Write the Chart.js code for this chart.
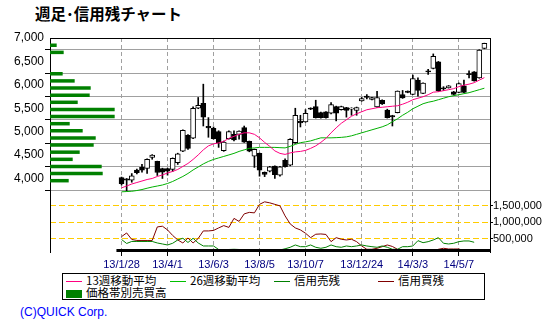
<!DOCTYPE html>
<html>
<head>
<meta charset="utf-8">
<script src="https://cdn.jsdelivr.net/npm/chart.js@4.4.1/dist/chart.umd.min.js"></script>
<style>
body { margin: 0; background: #fff; width: 554px; height: 321px; position: relative; overflow: hidden; }
#title { position: absolute; left: 35px; top: 4px; font: bold 15.5px "Noto Sans CJK JP"; line-height: 18px; color: #000; white-space: nowrap; }
#chartBox { position: absolute; left: 0; top: 0; width: 554px; height: 270px; }
#legend { position: absolute; left: 62px; top: 273px; width: 421px; height: 25px; border: 1px solid #000; }
.item { position: absolute; font: 11.5px "Noto Sans CJK JP"; line-height: 13px; white-space: nowrap; color: #000; }
.item .ln { display: inline-block; width: 16px; height: 0; border-top: 1px solid; vertical-align: middle; margin-right: 4px; }
.item .bx { display: inline-block; width: 16px; height: 8px; background: #008000; vertical-align: middle; margin-right: 4px; }
#copy { position: absolute; left: 20px; top: 305px; color: #0000ff; font: 12px "Liberation Sans"; line-height: 14px; }
</style>
</head>
<body>
<div id="title">週足･信用残チャート</div>
<div id="chartBox"><canvas id="chart" width="554" height="270"></canvas></div>
<div id="legend">
    <div class="item" style="left:3px;top:0px"><span class="ln" style="border-color:#ff0080"></span>13週移動平均</div>
    <div class="item" style="left:107px;top:0px"><span class="ln" style="border-color:#00c000"></span>26週移動平均</div>
    <div class="item" style="left:211px;top:0px"><span class="ln" style="border-color:#008000"></span>信用売残</div>
    <div class="item" style="left:315px;top:0px"><span class="ln" style="border-color:#800000"></span>信用買残</div>
    <div class="item" style="left:3px;top:12px"><span class="bx"></span>価格帯別売買高</div>
</div>
<div id="copy">(C)QUICK Corp.</div>
<script>
// x axis: week index, labelled dates
const dateTickIdx = [0, 9, 18, 27, 36, 47, 57, 66];
const dateTickLabels = ['13/1/28', '13/4/1', '13/6/3', '13/8/5', '13/10/7', '13/12/24', '14/3/3', '14/5/7'];

// weekly candles
const openP = [4020, 3990, 3963, 4178, 4236, 4214, 4450, 4364, 4214, 4214,
    4193, 4336, 4585, 4921, 4863, 5500, 5607, 5114, 5071, 5001,
    4593, 4851, 4943, 4943, 5086, 4793, 4478, 4536, 4130, 4156,
    4264, 4071, 4386, 4285, 4765, 5220, 5206, 5505, 5536, 5408,
    5421, 5393, 5536, 5472, 5515, 5480, 5451, 5656, 5760, 5686,
    5528, 5671, 5463, 5345, 5408, 5793, 5865, 5793, 6100, 5815,
    6300, 6351, 6492, 5935, 5935, 5849, 5836, 5978, 6240, 6278,
    6149, 6779];
const highP = [4030, 4000, 4105, 4200, 4300, 4420, 4510, 4370, 4220, 4220,
    4440, 4540, 5040, 4940, 5530, 5730, 6014, 5300, 5100, 5020,
    4800, 5020, 5020, 5020, 5120, 4800, 4630, 4545, 4140, 4260,
    4270, 4260, 4420, 4850, 5500, 5350, 5470, 5510, 5671, 5420,
    5430, 5620, 5545, 5545, 5520, 5510, 5525, 5730, 5790, 5735,
    5860, 5680, 5480, 5350, 5870, 5880, 5870, 6210, 6150, 6045,
    6330, 6660, 6500, 5960, 5985, 5860, 6040, 6100, 6300, 6285,
    6750, 6890];
const lowP = [3860, 3730, 3920, 4100, 4135, 4107, 4410, 4064, 4000, 4071,
    4150, 4300, 4570, 4620, 4850, 5490, 5121, 4880, 4840, 4664,
    4580, 4840, 4800, 4840, 4770, 4570, 4236, 4049, 4040, 4140,
    4000, 4050, 4240, 4270, 4750, 5100, 5200, 5470, 5290, 5290,
    5290, 5380, 5230, 5460, 5310, 5350, 5350, 5650, 5700, 5680,
    5520, 5580, 5290, 5121, 5400, 5710, 5830, 5790, 5760, 5810,
    6220, 6340, 5860, 5880, 5930, 5780, 5830, 5830, 6150, 6080,
    6140, 6770];
const closeP = [3890, 3965, 4058, 4122, 4178, 4407, 4500, 4128, 4135, 4156,
    4428, 4529, 5028, 4643, 5500, 5564, 5307, 5080, 4851, 4765,
    4778, 5001, 4821, 5013, 4778, 4585, 4621, 4178, 4086, 4251,
    4079, 4251, 4251, 4836, 5350, 5189, 5393, 5480, 5301, 5301,
    5301, 5579, 5393, 5536, 5451, 5505, 5515, 5708, 5730, 5729,
    5729, 5592, 5301, 5315, 5864, 5721, 5838, 6136, 5879, 6036,
    6275, 6608, 5871, 5910, 5978, 5793, 6029, 5836, 6215, 6085,
    6743, 6886];

// moving averages
const ma13 = [3800, 3839, 3882, 3914, 3946, 3978, 4000, 4043, 4075, 4118,
    4150, 4193, 4257, 4321, 4407, 4503, 4611, 4696, 4739, 4761,
    4793, 4857, 4900, 4943, 4975, 4975, 4943, 4868, 4771, 4686,
    4589, 4536, 4514, 4546, 4568, 4578, 4600, 4643, 4696, 4771,
    4857, 4975, 5082, 5179, 5254, 5329, 5382, 5425, 5468, 5489,
    5511, 5521, 5532, 5543, 5553, 5586, 5628, 5682, 5714, 5746,
    5789, 5843, 5853, 5875, 5896, 5918, 5961, 5993, 6014, 6046,
    6100, 6154];
const ma26 = [3715, 3721, 3727, 3743, 3764, 3792, 3818, 3839, 3861, 3893,
    3936, 3989, 4043, 4107, 4182, 4246, 4311, 4364, 4407, 4439,
    4471, 4503, 4536, 4578, 4611, 4643, 4653, 4664, 4664, 4664,
    4664, 4658, 4653, 4686, 4728, 4765, 4782, 4803, 4836, 4868,
    4868, 4868, 4872, 4878, 4889, 4911, 4943, 4975, 5007, 5039,
    5071, 5103, 5146, 5211, 5275, 5350, 5414, 5489, 5543, 5596,
    5628, 5650, 5682, 5714, 5746, 5768, 5789, 5811, 5832, 5864,
    5896, 5928];

// margin balances (shares)
const marginSell = [486000, 366000, 426000, 426000, 426000, 426000, 426000, 381000, 351000, 321000,
    372000, 471000, 522000, 396000, 522000, 381000, 291000, 291000, 291000, 186000,
    171000, 186000, 192000, 186000, 171000, 162000, 156000, 150000, 150000, 156000,
    162000, 171000, 207000, 252000, 321000, 270000, 270000, 321000, 252000, 222000,
    252000, 321000, 270000, 252000, 291000, 270000, 291000, 321000, 291000, 270000,
    252000, 291000, 252000, 192000, 192000, 270000, 270000, 291000, 450000, 390000,
    420000, 471000, 540000, 372000, 351000, 372000, 420000, 441000, 441000, 402000];
const marginBuy = [570000, 681000, 486000, 456000, 456000, 456000, 456000, 861000, 882000, 771000,
    606000, 471000, 381000, 531000, 381000, 516000, 741000, 741000, 756000, 831000,
    900000, 846000, 1116000, 1026000, 1251000, 1296000, 1281000, 1536000, 1611000, 1581000,
    1536000, 1491000, 1191000, 951000, 831000, 771000, 672000, 540000, 642000, 651000,
    636000, 420000, 540000, 492000, 471000, 492000, 420000, 291000, 192000, 192000,
    222000, 270000, 321000, 276000, 192000, 171000, 150000, 120000, 132000, 126000,
    120000, 111000, 192000, 222000, 201000, 201000, 201000, 156000, 111000];

// volume by price
const priceBands = [6845, 6693, 6540, 6388, 6236, 6084, 5932, 5779, 5627, 5475,
    5323, 5170, 5018, 4866, 4714, 4562, 4409, 4257, 4105, 3953];
const bandVolume = [152, 311, 0, 0, 288, 561, 925, 902, 630, 1470,
    1470, 448, 743, 1039, 993, 675, 516, 1175, 1198, 425];

const priceTicks = [4000, 4500, 5000, 5500, 6000, 6500, 7000];
const marginTicks = [500000, 1000000, 1500000];

const pts = arr => arr.map((v, i) => ({ x: i, y: v }));

// frame lines: black top edge and heavy baseline
const framePlugin = {
    id: 'frame',
    afterDraw(chart) {
        const { ctx, chartArea: a, scales } = chart;
        ctx.save();
        ctx.strokeStyle = '#000';
        ctx.lineWidth = 1;
        ctx.beginPath();
        ctx.moveTo(a.left, a.top + 0.5);
        ctx.lineTo(a.right, a.top + 0.5);
        ctx.stroke();
        ctx.lineWidth = 3;
        ctx.beginPath();
        ctx.moveTo(scales.x.getPixelForValue(-1), a.bottom - 1.5);
        ctx.lineTo(a.right, a.bottom - 1.5);
        ctx.stroke();
        ctx.restore();
    }
};

new Chart(document.getElementById('chart'), {
    type: 'line',
    data: {
        datasets: [
            {
                type: 'bar',
                indexAxis: 'y',
                xAxisID: 'xv',
                yAxisID: 'y',
                data: priceBands.map((p, k) => ({ x: bandVolume[k], y: p })),
                backgroundColor: '#008000',
                borderColor: '#008000',
                borderWidth: 0,
                inflateAmount: 0,
                barThickness: 3.5,
                grouped: false,
                order: 10
            },
            {
                type: 'bar',
                xAxisID: 'x',
                yAxisID: 'y',
                data: lowP.map((v, i) => ({ x: i, y: [v, highP[i]] })),
                backgroundColor: '#000',
                borderWidth: 0,
                barThickness: 1,
                grouped: false,
                order: 6
            },
            {
                type: 'bar',
                xAxisID: 'x',
                yAxisID: 'y',
                data: openP.map((v, i) => ({ x: i, y: [v, closeP[i]] })),
                backgroundColor: ctx => closeP[ctx.dataIndex] >= openP[ctx.dataIndex] ? '#fff' : '#000',
                borderColor: '#000',
                borderWidth: 1,
                borderSkipped: false,
                barThickness: 5,
                grouped: false,
                order: 5
            },
            {
                data: pts(ma13), xAxisID: 'x', yAxisID: 'y',
                borderColor: '#ff0080', borderWidth: 1, pointRadius: 0, order: 1
            },
            {
                data: pts(ma26), xAxisID: 'x', yAxisID: 'y',
                borderColor: '#00b000', borderWidth: 1, pointRadius: 0, order: 2
            },
            {
                data: pts(marginSell), xAxisID: 'x', yAxisID: 'ym',
                borderColor: '#008000', borderWidth: 1, pointRadius: 0, order: 3
            },
            {
                data: pts(marginBuy), xAxisID: 'x', yAxisID: 'ym',
                borderColor: '#800000', borderWidth: 1, pointRadius: 0, order: 3
            }
        ]
    },
    options: {
        responsive: false,
        animation: false,
        devicePixelRatio: 1,
        layout: { padding: { top: 38, left: 0, right: 0, bottom: 0 } },
        plugins: { legend: { display: false }, tooltip: { enabled: false } },
        scales: {
            x: {
                type: 'linear', position: 'bottom', min: -14, max: 72.1, offset: false,
                afterBuildTicks: s => { s.ticks = dateTickIdx.map(v => ({ value: v })); },
                afterFit: s => { s.height = 18; },
                ticks: {
                    autoSkip: false, maxRotation: 0, padding: 2, color: '#000080',
                    font: { family: 'Liberation Sans', size: 11 },
                    callback: v => dateTickLabels[dateTickIdx.indexOf(v)]
                },
                grid: { color: '#a0a0a0', tickColor: '#000', tickLength: 4, offset: false },
                border: { display: false, dash: [4, 3] }
            },
            xv: {
                type: 'linear', axis: 'x', display: false, min: 0, max: 10000, offset: false
            },
            y: {
                type: 'linear', position: 'left', min: 2430, max: 7000, offset: false, beginAtZero: false,
                afterBuildTicks: s => { s.ticks = priceTicks.map(v => ({ value: v })); },
                afterFit: s => { s.width = 50; },
                ticks: {
                    padding: 1, color: '#000',
                    font: { family: 'Liberation Sans', size: 12 },
                    callback: v => v.toLocaleString('en-US')
                },
                grid: { color: '#a0a0a0', tickColor: '#000', tickLength: 5 },
                border: { display: true, color: '#000' }
            },
            ym: {
                type: 'linear', position: 'right', min: 111000, max: 6510000, offset: false,
                afterBuildTicks: s => { s.ticks = marginTicks.map(v => ({ value: v })); },
                afterFit: s => { s.width = 64; },
                ticks: {
                    padding: 0, color: '#000',
                    font: { family: 'Liberation Sans', size: 11 },
                    callback: v => v.toLocaleString('en-US')
                },
                grid: { color: '#ffcc00', tickColor: '#000', tickLength: 3 },
                border: { display: true, color: '#000', dash: [6, 3] }
            }
        }
    },
    plugins: [framePlugin]
});
</script>
</body>
</html>
